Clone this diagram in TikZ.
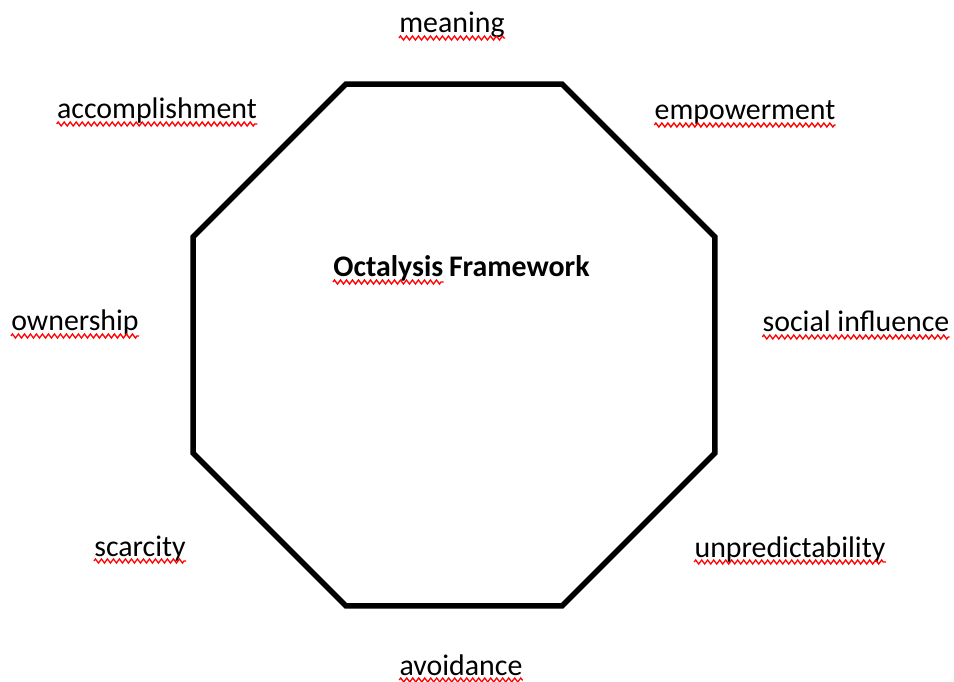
\documentclass[tikz,border=0pt]{standalone}
\usepackage{fontspec}
\setmainfont{Carlito}
\usetikzlibrary{shapes.geometric,decorations.pathmorphing}

% red spell-check mark under a word node
\newcommand\spellmark[2]{\draw[squiggle] ([yshift=-0.1cm]#1.base west) -- ([yshift=-0.1cm]#2.base east);}

\begin{document}
\begin{tikzpicture}[x=0.02cm,y=-0.02cm,
  word/.style={font=\fontsize{17}{20}\selectfont, inner sep=0pt},
  squiggle/.style={red, line width=0.75pt, decorate,
    decoration={zigzag, segment length=0.12cm, amplitude=0.04cm}}]
  \useasboundingbox (0,0) rectangle (954,682);

  \node[draw, regular polygon, regular polygon sides=8, minimum size=11.3cm,
    line width=3.1pt, inner sep=0pt] (octa) at (454,345) {};

  \node[word, font=\fontsize{17}{20}\selectfont\bfseries, anchor=base west] (ocly) at (333,277) {Octalysis};
  \node[word, font=\fontsize{17}{20}\selectfont\bfseries, anchor=base west] (frame) at ([xshift=0.1cm]ocly.base east) {Framework};

  \node[word, anchor=base] (meaning) at (452,33) {meaning};
  \node[word, anchor=base] (accomp) at (157,119) {accomplishment};
  \node[word, anchor=base] (empower) at (745,120) {empowerment};
  \node[word, anchor=base] (owner) at (75,331) {ownership};
  \node[word, anchor=base] (social) at (856,332) {social influence};
  \node[word, anchor=base] (scarce) at (140,556) {scarcity};
  \node[word, anchor=base] (unpred) at (790,557) {unpredictability};
  \node[word, anchor=base] (avoid) at (461,675) {avoidance};

  \spellmark{ocly}{ocly}
  \spellmark{meaning}{meaning}
  \spellmark{accomp}{accomp}
  \spellmark{empower}{empower}
  \spellmark{owner}{owner}
  \spellmark{social}{social}
  \spellmark{scarce}{scarce}
  \spellmark{unpred}{unpred}
  \spellmark{avoid}{avoid}
\end{tikzpicture}
\end{document}
